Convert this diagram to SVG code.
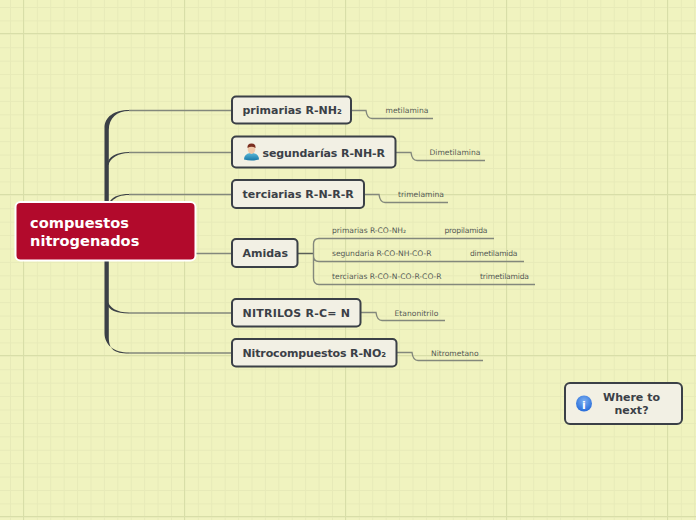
<svg xmlns="http://www.w3.org/2000/svg" width="696" height="520" viewBox="0 0 696 520">
<style>
text{font-family:"DejaVu Sans",sans-serif;fill:#3b4047}
.n{fill:#f2f0e4;stroke:#3b4047;stroke-width:2}
.t{font-size:11px;font-weight:bold}
.s{font-size:7.6px;fill:#555a55}
.c{fill:none;stroke:#83887c;stroke-width:1.4}
.b{fill:#3b4047}
</style>
<defs>
<pattern id="minor" x="10" y="7" width="13.417" height="13.417" patternUnits="userSpaceOnUse">
<path d="M.5 0V13.417M0 .5H13.417" fill="none" stroke="#e7eab8" stroke-width="1"/>
</pattern>
<pattern id="major" x="23" y="33" width="161" height="161" patternUnits="userSpaceOnUse">
<path d="M.5 0V161M0 .5H161" fill="none" stroke="#d8dea8" stroke-width="1"/>
</pattern>
<radialGradient id="info" cx=".5" cy=".35" r=".7"><stop offset="0" stop-color="#7db0f0"/><stop offset="1" stop-color="#1f66d8"/></radialGradient>
<linearGradient id="shirt" x1="0" y1="0" x2="0" y2="1"><stop offset="0" stop-color="#5ab8d8"/><stop offset="1" stop-color="#1878a8"/></linearGradient>
</defs>
<rect width="696" height="520" fill="#f0f3bf"/>
<rect width="696" height="520" fill="url(#minor)"/>
<rect width="696" height="520" fill="url(#major)"/>

<g id="connectors">
<path class="b" d="M104.500 230V128C104.500 117 114 110 129 110V111C117 111 108.800 118 108.800 130V230Z"/>
<path class="b" d="M107 165C108 157 116 152 129 152V153C118 153 110 158 108.500 165Z"/>
<path class="b" d="M110 201C114 196 120 194 129 194V195C121 195 116 197 112 201Z"/>
<path class="b" d="M104.500 230V333C104.500 345 114 352.500 129 352.500V353.500C114 353.500 109 349 108.800 338V230Z"/>
<path class="b" d="M107 299C109 308 117 312.500 129 312.500V313.500C116 313.500 109 310 107 304Z"/>
<path d="M129 110.500H232M129 152.500H232M129 194.500H232M190 253.500H232M129 313H232M129 353H232" class="c"/>
<path d="M351 110.500H366Q367 118.500 372 118.500H433" class="c"/>
<path d="M395 152.500H411Q412 160.500 417 160.500H485" class="c"/>
<path d="M364 194.500H379Q380 202.500 385 202.500H448" class="c"/>
<path d="M298 253.500H313" fill="none" stroke="#5a5f58" stroke-width="1.500"/>
<path d="M494 238.500H319Q313.500 238.500 313.500 244V278Q313.500 284.500 319 284.500H535M313.500 254V256Q313.500 261.500 319 261.500H524" class="c"/>
<path d="M360 312.500H376Q377 320.500 382 320.500H445" class="c"/>
<path d="M397 352.500H412Q413 360.500 418 360.500H483" class="c"/>
</g>

<g id="root">
<rect x="15.500" y="202" width="180" height="58.500" rx="5" fill="#b20a2c" stroke="#fff" stroke-width="2"/>
<text x="30" y="228" font-size="14.600" font-weight="bold" style="fill:#fff">compuestos</text>
<text x="30" y="246" font-size="14.600" font-weight="bold" style="fill:#fff">nitrogenados</text>
</g>
<g id="n1"><rect class="n" x="232" y="96.500" width="119" height="27" rx="4"/><text class="t" x="242.500" y="114">primarias R-NH₂</text></g>
<g id="n2"><rect class="n" x="232" y="136.500" width="163.500" height="31" rx="4"/>
<path d="M244 159.500Q244 154 250 153H253Q259 154 259 159.500Q251.500 161.500 244 159.500Z" fill="url(#shirt)"/>
<ellipse cx="251.500" cy="149" rx="3.800" ry="5" fill="#f0c8a8"/>
<path d="M247.500 148Q247 143.500 251.500 143.500Q256 143.500 255.500 148Q251.500 145.500 247.500 148Z" fill="#7a2e20"/>
<text class="t" x="262.500" y="157" textLength="122.500">segundarías R-NH-R</text></g>
<g id="n3"><rect class="n" x="232" y="180" width="132" height="28" rx="4"/><text class="t" x="242.500" y="198">terciarias R-N-R-R</text></g>
<g id="n4"><rect class="n" x="232" y="239" width="65.500" height="28" rx="4"/><text class="t" x="242.500" y="257">Amidas</text></g>
<g id="n5"><rect class="n" x="232" y="299" width="128.500" height="27.500" rx="4"/><text class="t" x="242.500" y="317" textLength="107.500">NITRILOS R-C= N</text></g>
<g id="n6"><rect class="n" x="232" y="339" width="164.500" height="27.500" rx="4"/><text class="t" x="242.500" y="357" textLength="143.500">Nitrocompuestos R-NO₂</text></g>

<g id="l1"><text class="s" x="385.500" y="113">metilamina</text></g>
<g id="l2"><text class="s" x="429.500" y="155">Dimetilamina</text></g>
<g id="l3"><text class="s" x="398" y="197">trimelamina</text></g>
<g id="l4"><text class="s" x="332" y="233" textLength="74">primarias R-CO-NH₂</text><text class="s" x="444.500" y="233" textLength="43">propilamida</text></g>
<g id="l5"><text class="s" x="332" y="256" textLength="99.500">segundaria R-CO-NH-CO-R</text><text class="s" x="470" y="256" textLength="47.500">dimetilamida</text></g>
<g id="l6"><text class="s" x="332" y="279">terciarias R-CO-N-CO-R-CO-R</text><text class="s" x="480" y="279" textLength="49">trimetilamida</text></g>
<g id="l7"><text class="s" x="394.500" y="316">Etanonitrilo</text></g>
<g id="l8"><text class="s" x="431" y="356">Nitrometano</text></g>

<g id="next"><rect class="n" x="565" y="383" width="117" height="41" rx="5"/>
<circle cx="584" cy="403.500" r="8" fill="url(#info)"/>
<text x="584" y="408.500" font-size="11" font-weight="bold" text-anchor="middle" style="fill:#fff">i</text>
<text class="t" x="631.500" y="401" text-anchor="middle">Where to</text>
<text class="t" x="631.500" y="414" text-anchor="middle">next?</text></g>
</svg>
